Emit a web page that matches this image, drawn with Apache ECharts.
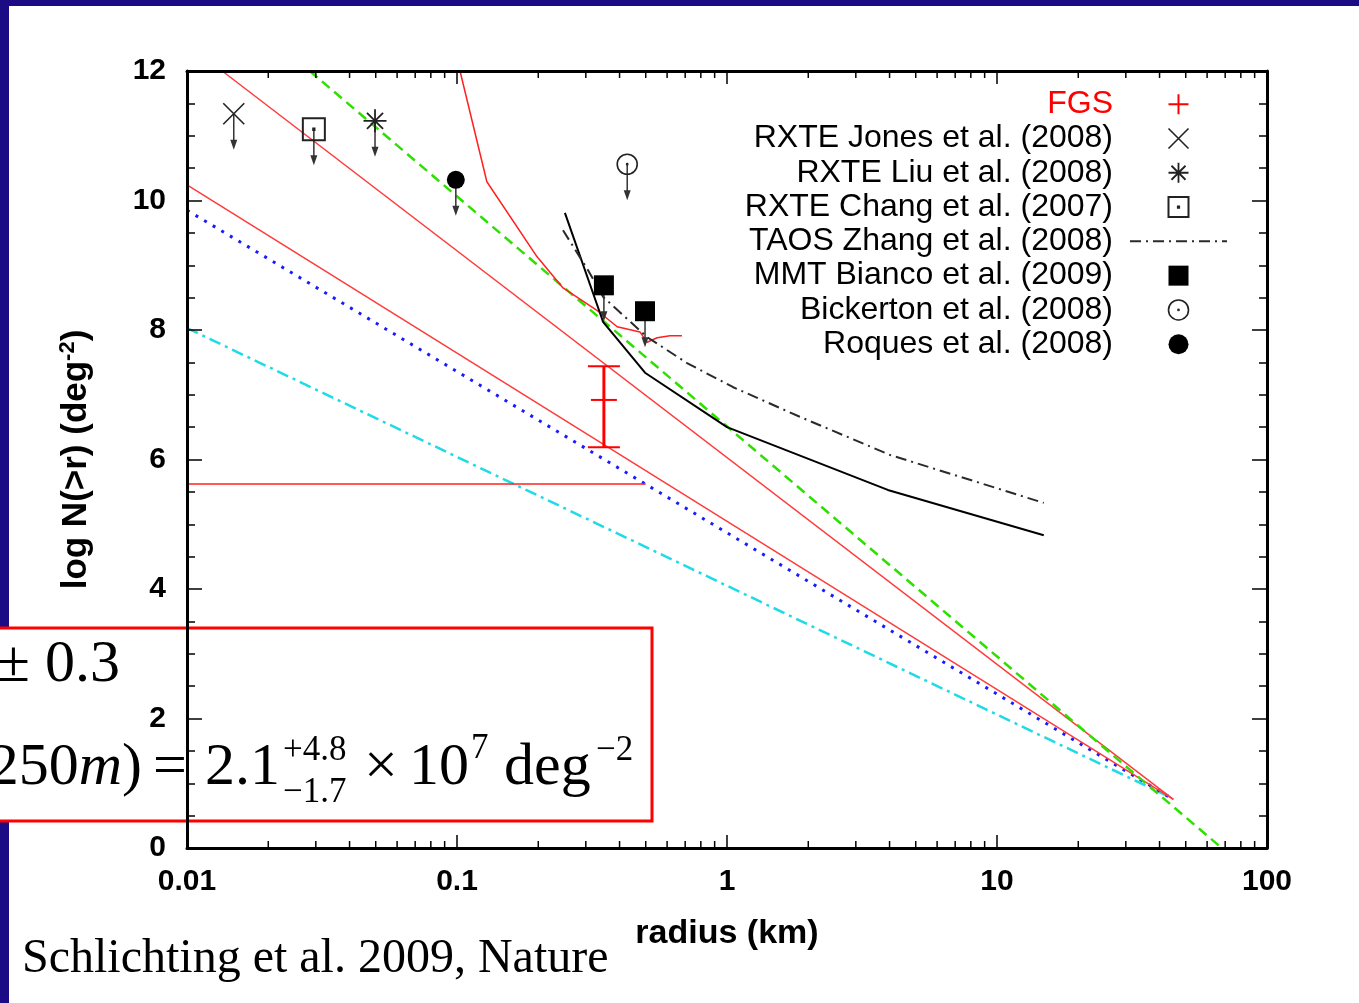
<!DOCTYPE html>
<html><head><meta charset="utf-8">
<script src="https://cdn.jsdelivr.net/npm/echarts@6/dist/echarts.min.js"></script>
<style>html,body{margin:0;padding:0;background:#fff;}#c{width:1359px;height:1003px;}</style>
</head><body><div id="c"></div>
<script>
// ---- data ----
const xTickLabels = ['0.01', '0.1', '1', '10', '100'];
const xMinorTicks = [0.02,0.03,0.04,0.05,0.06,0.07,0.08,0.09,0.2,0.3,0.4,0.5,0.6,0.7,0.8,0.9,2,3,4,5,6,7,8,9,20,30,40,50,60,70,80,90];
const greenDashed = [[0.0285, 12], [68, 0]];
const redUpper = [[0.0135, 12], [45, 0.75]];
const redLower = [[0.01, 10.24], [45, 0.75]];
const blueDotted = [[0.01, 9.85], [45, 0.75]];
const cyanDashDot = [[0.01, 8.03], [44, 0.78]];
const redHorizontal = [[0.01, 5.62], [0.5, 5.62]];
const redCurve = [[0.1026, 12], [0.129, 10.29], [0.198, 9.13], [0.247, 8.65], [0.333, 8.29], [0.392, 8.05], [0.476, 7.97], [0.506, 7.81], [0.551, 7.88], [0.615, 7.91], [0.681, 7.91]];
const blackLine = [[0.251, 9.81], [0.348, 8.12], [0.497, 7.34], [1.0, 6.50], [3.94, 5.53], [14.9, 4.83]];
const taosZhang = [[0.247, 9.54], [0.305, 8.93], [0.348, 8.51], [0.506, 7.89], [0.711, 7.49], [1.05, 7.12], [1.86, 6.66], [4.02, 6.07], [14.9, 5.33]];
const fgs = [[0.35, 6.19, 6.92, 7.44]]; // r, low, mid, high
const jones = [[0.0149, 11.34]];
const liu = [[0.0497, 11.23]];
const chang = [[0.0295, 11.10]];
const bianco = [[0.35, 8.69], [0.497, 8.29]];
const bickerton = [[0.427, 10.56]];
const roques = [[0.099, 10.32]];

// ---- symbols ----
const plusPath = 'path://M5,0L5,10M0,5L10,5';
const xPath = 'path://M0,0L10,10M10,0L0,10';
const starPath = 'path://M5,0L5,10M0,5L10,5M1.5,1.5L8.5,8.5M8.5,1.5L1.5,8.5';
const sqDotPath = 'path://M0,0L10,0L10,10L0,10Z M4.7,4.7L5.3,4.7L5.3,5.3L4.7,5.3Z';
const sqPath = 'path://M0,0L10,0L10,10L0,10Z';
const circDotPath = 'path://M0,5A5,5,0,1,1,10,5A5,5,0,1,1,0,5Z M4.7,5A0.3,0.3,0,1,1,5.3,5A0.3,0.3,0,1,1,4.7,5Z';

const SANS = '"Liberation Sans", Arial, sans-serif';
const SERIF = '"Liberation Serif", "Times New Roman", serif';
const CLEAR = 'rgba(0,0,0,0)';

const chart = echarts.init(document.getElementById('c'));

function lineSeries(name, data, color, width, type) {
  return {
    name: name, type: 'line', data: data, symbol: 'none', silent: true, z: 3,
    lineStyle: { color: color, width: width, type: type || 'solid' }
  };
}
function limitSeries(name, data, symbol, size, style) {
  return { name: name, type: 'scatter', data: data, symbol: symbol, symbolSize: size, z: 6, itemStyle: style, silent: true };
}
const openStyle = { color: CLEAR, borderColor: '#222', borderWidth: 1.6, opacity: 1 };
const allLimits = [].concat(jones, liu, chang, bianco, bickerton, roques);

const option = {
  animation: false,
  backgroundColor: '#ffffff',
  grid: { left: 187, right: 92, top: 71, bottom: 155, show: false },
  xAxis: [
    {
      type: 'log', logBase: 10, min: 0.01, max: 100, position: 'bottom', z: 10,
      axisLine: { show: true, onZero: false, lineStyle: { color: '#000', width: 3 } },
      axisTick: { show: true, inside: true, length: 13, lineStyle: { color: '#000', width: 1.5 } },
      axisLabel: { margin: 19, fontSize: 30, fontWeight: 'bold', fontFamily: SANS, color: '#000',
        formatter: function (v) { return xTickLabels[Math.round(Math.log10(v)) + 2]; } },
      splitLine: { show: false },
      name: 'radius (km)', nameLocation: 'middle', nameGap: 69,
      nameTextStyle: { fontSize: 34, fontWeight: 'bold', fontFamily: SANS, color: '#000' }
    },
    {
      type: 'log', logBase: 10, min: 0.01, max: 100, position: 'top', z: 10,
      axisLine: { show: true, onZero: false, lineStyle: { color: '#000', width: 3 } },
      axisTick: { show: true, inside: true, length: 13, lineStyle: { color: '#000', width: 1.5 } },
      axisLabel: { show: false }, splitLine: { show: false }
    }
  ],
  yAxis: [
    {
      type: 'value', min: 0, max: 12, interval: 2, position: 'left', z: 10,
      axisLine: { show: true, onZero: false, lineStyle: { color: '#000', width: 3 } },
      axisTick: { show: true, inside: true, length: 15, lineStyle: { color: '#000', width: 1.5 } },
      minorTick: { show: true, splitNumber: 4, length: 8, lineStyle: { color: '#000', width: 1.5 } },
      axisLabel: { margin: 21, fontSize: 30, fontWeight: 'bold', fontFamily: SANS, color: '#000' },
      splitLine: { show: false },
      name: 'log N(>r) (deg{s|-2})', nameLocation: 'middle', nameGap: 92, nameRotate: 90,
      nameTextStyle: { fontSize: 35, fontWeight: 'bold', fontFamily: SANS, color: '#000', lineHeight: 38,
        rich: { s: { fontSize: 22, fontWeight: 'bold', fontFamily: SANS, color: '#000', verticalAlign: 'top', lineHeight: 38 } } }
    },
    {
      type: 'value', min: 0, max: 12, interval: 2, position: 'right', z: 10,
      axisLine: { show: true, onZero: false, lineStyle: { color: '#000', width: 3 } },
      axisTick: { show: true, inside: true, length: 15, lineStyle: { color: '#000', width: 1.5 } },
      minorTick: { show: true, splitNumber: 4, length: 8, lineStyle: { color: '#000', width: 1.5 } },
      axisLabel: { show: false }, splitLine: { show: false }
    }
  ],
  legend: {
    orient: 'vertical', right: 131, top: 87, align: 'right', padding: 0,
    itemWidth: 97, itemHeight: 20, itemGap: 0, selectedMode: false,
    textStyle: { fontSize: 32, fontFamily: SANS, color: '#000', lineHeight: 34.3, padding: [0, 12, 0, 0] },
    data: [
      { name: 'FGS', icon: plusPath, textStyle: { color: '#ff0000' }, itemStyle: { color: CLEAR, borderColor: '#ff0000', borderWidth: 2, opacity: 1 } },
      { name: 'RXTE Jones et al. (2008)', icon: xPath, itemStyle: { color: CLEAR, borderColor: '#222', borderWidth: 1.6, opacity: 1 } },
      { name: 'RXTE Liu et al. (2008)', icon: starPath, itemStyle: { color: CLEAR, borderColor: '#222', borderWidth: 1.8, opacity: 1 } },
      { name: 'RXTE Chang et al. (2007)', icon: sqDotPath, itemStyle: { color: CLEAR, borderColor: '#222', borderWidth: 2, opacity: 1 } },
      { name: 'TAOS Zhang et al. (2008)', itemStyle: { color: CLEAR, borderColor: CLEAR, borderWidth: 0 } },
      { name: 'MMT Bianco et al. (2009)', icon: sqPath, itemStyle: { color: '#000', borderWidth: 0, opacity: 1 } },
      { name: 'Bickerton et al. (2008)', icon: circDotPath, itemStyle: { color: CLEAR, borderColor: '#222', borderWidth: 1.6, opacity: 1 } },
      { name: 'Roques et al. (2008)', icon: 'circle', itemStyle: { color: '#000', borderWidth: 0, opacity: 1 } }
    ]
  },
  graphic: {
    elements: [
      { type: 'rect', z: 0, silent: true, shape: { x: 0, y: 0, width: 1359, height: 6 }, style: { fill: '#1b0c86' } },
      { type: 'rect', z: 0, silent: true, shape: { x: 0, y: 0, width: 9, height: 1003 }, style: { fill: '#1b0c86' } },
      { type: 'rect', z: 1, silent: true, shape: { x: -2, y: 628, width: 654, height: 193 }, style: { fill: '#fff', stroke: '#ff0000', lineWidth: 3 } },
      { type: 'text', z: 2, silent: true, x: -3, y: 665, style: { text: '±', fontSize: 60, fontFamily: SERIF, fill: '#000', verticalAlign: 'middle' } },
      { type: 'text', z: 2, silent: true, x: 45, y: 665, style: { text: '0.3', fontSize: 60, fontFamily: SERIF, fill: '#000', verticalAlign: 'middle' } },
      { type: 'text', z: 2, silent: true, x: 142, y: 768, style: { text: '250{i|m})', fontSize: 60, fontFamily: SERIF, fill: '#000', align: 'right', verticalAlign: 'middle',
          rich: { i: { fontSize: 60, fontFamily: SERIF, fontStyle: 'italic', fill: '#000' } } } },
      { type: 'text', z: 2, silent: true, x: 153, y: 768, style: { text: '=', fontSize: 60, fontFamily: SERIF, fill: '#000', verticalAlign: 'middle' } },
      { type: 'text', z: 2, silent: true, x: 205, y: 768, style: { text: '2.1', fontSize: 60, fontFamily: SERIF, fill: '#000', verticalAlign: 'middle' } },
      { type: 'text', z: 2, silent: true, x: 283, y: 751, style: { text: '+4.8', fontSize: 35, fontFamily: SERIF, fill: '#000', verticalAlign: 'middle' } },
      { type: 'text', z: 2, silent: true, x: 283, y: 793, style: { text: '−1.7', fontSize: 35, fontFamily: SERIF, fill: '#000', verticalAlign: 'middle' } },
      { type: 'text', z: 2, silent: true, x: 364, y: 768, style: { text: '×', fontSize: 60, fontFamily: SERIF, fill: '#000', verticalAlign: 'middle' } },
      { type: 'text', z: 2, silent: true, x: 409, y: 768, style: { text: '10', fontSize: 60, fontFamily: SERIF, fill: '#000', verticalAlign: 'middle' } },
      { type: 'text', z: 2, silent: true, x: 471, y: 749, style: { text: '7', fontSize: 35, fontFamily: SERIF, fill: '#000', verticalAlign: 'middle' } },
      { type: 'text', z: 2, silent: true, x: 504, y: 768, style: { text: 'deg', fontSize: 60, fontFamily: SERIF, fill: '#000', verticalAlign: 'middle' } },
      { type: 'text', z: 2, silent: true, x: 596, y: 751, style: { text: '−2', fontSize: 35, fontFamily: SERIF, fill: '#000', verticalAlign: 'middle' } },
      { type: 'text', z: 2, silent: true, x: 22, y: 959, style: { text: 'Schlichting et al. 2009, Nature', fontSize: 48, fontFamily: SERIF, fill: '#000', verticalAlign: 'middle' } }
    ]
  },
  series: [
    // log minor ticks on bottom and top frame
    {
      name: 'minorTicks', type: 'custom', silent: true, z: 11, clip: false,
      data: xMinorTicks.map(function (v) { return [v, 0]; }),
      encode: { x: 0, y: 1 },
      renderItem: function (params, api) {
        const v = api.value(0);
        const b = api.coord([v, 0]);
        const t = api.coord([v, 12]);
        const st = { stroke: '#000', lineWidth: 1.5 };
        return { type: 'group', children: [
          { type: 'line', shape: { x1: b[0], y1: b[1], x2: b[0], y2: b[1] - 7 }, style: st },
          { type: 'line', shape: { x1: t[0], y1: t[1], x2: t[0], y2: t[1] + 7 }, style: st }
        ] };
      }
    },
    lineSeries('model-cyan', cyanDashDot, '#1fdbe6', 2.5, [12, 5, 3, 5]),
    lineSeries('model-blue', blueDotted, '#1a1aff', 3, [3, 7]),
    lineSeries('model-red-lower', redLower, '#ff3b3b', 1.5),
    lineSeries('model-red-upper', redUpper, '#ff3b3b', 1.5),
    lineSeries('model-green', greenDashed, '#2ee000', 2.5, [10, 6]),
    lineSeries('fgs-limit-horizontal', redHorizontal, '#ff2020', 1.5),
    lineSeries('fgs-limit-curve', redCurve, '#ff2020', 1.5),
    lineSeries('black-line', blackLine, '#000000', 2),
    {
      name: 'TAOS Zhang et al. (2008)', type: 'line', data: taosZhang, symbol: 'none', silent: true, z: 4,
      lineStyle: { color: '#2a2a2a', width: 2, type: [11, 5, 2, 5] }, itemStyle: { color: '#2a2a2a' }
    },
    {
      name: 'FGS', type: 'custom', silent: true, z: 7,
      data: fgs, encode: { x: 0, y: [1, 2, 3] },
      itemStyle: { color: '#ff0000' },
      renderItem: function (params, api) {
        const r = api.value(0);
        const lo = api.coord([r, api.value(1)]);
        const mid = api.coord([r, api.value(2)]);
        const hi = api.coord([r, api.value(3)]);
        const c = '#ff0000';
        return { type: 'group', children: [
          { type: 'line', shape: { x1: lo[0], y1: lo[1], x2: hi[0], y2: hi[1] }, style: { stroke: c, lineWidth: 3 } },
          { type: 'line', shape: { x1: lo[0] - 16, y1: lo[1], x2: lo[0] + 16, y2: lo[1] }, style: { stroke: c, lineWidth: 2 } },
          { type: 'line', shape: { x1: hi[0] - 16, y1: hi[1], x2: hi[0] + 16, y2: hi[1] }, style: { stroke: c, lineWidth: 2 } },
          { type: 'line', shape: { x1: mid[0] - 13, y1: mid[1], x2: mid[0] + 13, y2: mid[1] }, style: { stroke: c, lineWidth: 2 } }
        ] };
      }
    },
    {
      name: 'upperLimitArrows', type: 'custom', silent: true, z: 5,
      data: allLimits, encode: { x: 0, y: 1 },
      renderItem: function (params, api) {
        const p = api.coord([api.value(0), api.value(1)]);
        const len = 36;
        const c = '#333';
        return { type: 'group', children: [
          { type: 'line', shape: { x1: p[0], y1: p[1], x2: p[0], y2: p[1] + len - 4 }, style: { stroke: c, lineWidth: 1.5 } },
          { type: 'polygon', shape: { points: [[p[0] - 3.5, p[1] + len - 10], [p[0] + 3.5, p[1] + len - 10], [p[0], p[1] + len]] }, style: { fill: c } }
        ] };
      }
    },
    limitSeries('RXTE Jones et al. (2008)', jones, xPath, 21, openStyle),
    limitSeries('RXTE Liu et al. (2008)', liu, starPath, 23, { color: CLEAR, borderColor: '#222', borderWidth: 1.8, opacity: 1 }),
    limitSeries('RXTE Chang et al. (2007)', chang, sqDotPath, 22, { color: CLEAR, borderColor: '#222', borderWidth: 2, opacity: 1 }),
    limitSeries('MMT Bianco et al. (2009)', bianco, 'rect', 20, { color: '#000', opacity: 1 }),
    limitSeries('Bickerton et al. (2008)', bickerton, circDotPath, 20, openStyle),
    limitSeries('Roques et al. (2008)', roques, 'circle', 18, { color: '#000', opacity: 1 })
  ]
};
chart.setOption(option);
</script>
</body></html>
